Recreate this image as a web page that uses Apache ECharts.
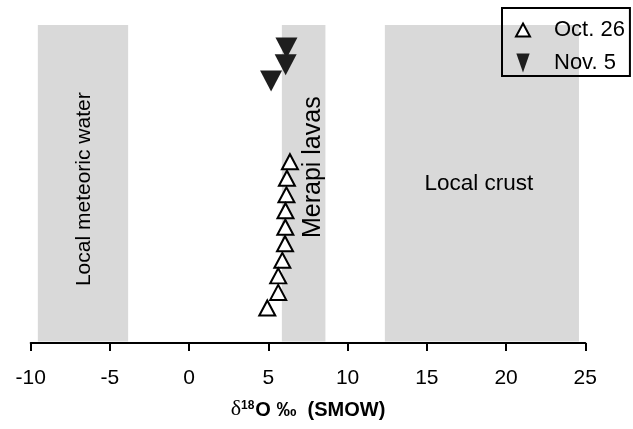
<!DOCTYPE html>
<html>
<head>
<meta charset="utf-8">
<script src="https://cdn.jsdelivr.net/npm/echarts@6/dist/echarts.min.js"></script>
<style>html,body{margin:0;padding:0;background:#fff}#c{width:633px;height:429px}</style>
</head>
<body>
<div id="c"></div>
<script>
// ---- data ----
const xTicks = [-10, 25, 5];              // min, max, interval of the delta-18O axis
const bandNames = ['Local meteoric water', 'Merapi lavas', 'Local crust'];
const bandStart = [-9.55, 5.85, 12.35];
const bandEnd   = [-3.85, 8.6, 24.6];
const bandBottom = 0.5, bandTop = 100;
const octName = 'Oct. 26';
const octX = [6.36, 6.17, 6.14, 6.08, 6.07, 6.05, 5.88, 5.62, 5.62, 4.93];
const octY = [57.0, 51.8, 46.6, 41.6, 36.4, 31.2, 26.0, 21.1, 15.9, 11.0];
const novName = 'Nov. 5';
const novX = [6.14, 6.09, 5.17];
const novY = [92.8, 87.5, 82.4];

// ---- chart ----
const FONT = 'Liberation Sans';
const downTri = 'path://M0,0 L20,0 L10,19 Z';
const chart = echarts.init(document.getElementById('c'), null, {renderer: 'canvas'});

const bandData = bandStart.map((s, i) => [s, bandEnd[i], bandBottom, bandTop, i]);
// label style per band: [dx, dy, rotated, fontSize]
const labelStyle = [[1, 6, true, 21], [9, -16, true, 25], [-3, 1, false, 22.5]];

chart.setOption({
  animation: false,
  backgroundColor: '#fff',
  grid: {left: 30.7, right: 47.7, top: 25, bottom: 86, containLabel: false},
  xAxis: {
    type: 'value', min: xTicks[0], max: xTicks[1], interval: xTicks[2],
    splitLine: {show: false},
    axisLine: {onZero: false, lineStyle: {color: '#000', width: 2}},
    axisTick: {length: 8, lineStyle: {color: '#000', width: 2}},
    axisLabel: {color: '#000', fontFamily: FONT, fontSize: 21, margin: 25},
    name: '{d|δ}{s|18}{b|O ‰  (SMOW)}',
    nameLocation: 'middle', nameGap: 55,
    nameTextStyle: {
      rich: {
        d: {fontFamily: 'Liberation Serif', fontSize: 22, color: '#000', verticalAlign: 'bottom'},
        s: {fontFamily: FONT, fontSize: 12, fontWeight: 'bold', color: '#000', verticalAlign: 'bottom', padding: [0, 1, 8, 0]},
        b: {fontFamily: FONT, fontSize: 20, fontWeight: 'bold', color: '#000', verticalAlign: 'bottom'}
      }
    }
  },
  yAxis: {type: 'value', min: 0, max: 100, show: false},
  legend: {
    left: 502, top: 8,
    orient: 'vertical',
    data: [
      {name: octName, icon: 'path://M7,0 L14,13 L0,13 Z'},
      {name: novName, icon: 'path://M0,0 L14,0 L7,20 Z'}
    ],
    borderColor: '#000', borderWidth: 2, borderRadius: 0,
    padding: [11, 5, 2, 13],
    itemWidth: 14, itemHeight: 19, itemGap: 11,
    textStyle: {color: '#000', fontFamily: FONT, fontSize: 22, lineHeight: 22, padding: [0, 0, 0, 19]}
  },
  series: [
    {
      type: 'custom', silent: true, z: 1,
      data: bandData,
      renderItem: function (params, api) {
        const p0 = api.coord([api.value(0), api.value(3)]);
        const p1 = api.coord([api.value(1), api.value(2)]);
        const i = api.value(4);
        const st = labelStyle[i];
        const cx = (p0[0] + p1[0]) / 2 + st[0];
        const cy = (p0[1] + p1[1]) / 2 + st[1];
        return {
          type: 'group',
          children: [
            {type: 'rect', shape: {x: p0[0], y: p0[1], width: p1[0] - p0[0], height: p1[1] - p0[1]},
             style: {fill: '#d9d9d9'}},
            {type: 'text', x: cx, y: cy, rotation: st[2] ? Math.PI / 2 : 0,
             style: {text: bandNames[i], x: 0, y: 0, align: 'center', verticalAlign: 'middle',
                     fill: '#000', font: st[3] + 'px "' + FONT + '"'}}
          ]
        };
      }
    },
    {
      name: octName, type: 'scatter', z: 3,
      data: octX.map((x, i) => [x, octY[i]]),
      symbol: 'triangle', symbolSize: [16, 15],
      itemStyle: {color: '#fff', borderColor: '#000', borderWidth: 2, opacity: 1}
    },
    {
      name: novName, type: 'scatter', z: 3,
      data: novX.map((x, i) => [x, novY[i]]),
      symbol: downTri, symbolSize: [22, 21],
      itemStyle: {color: '#1e1e1e', opacity: 1}
    }
  ]
});
</script>
</body>
</html>
